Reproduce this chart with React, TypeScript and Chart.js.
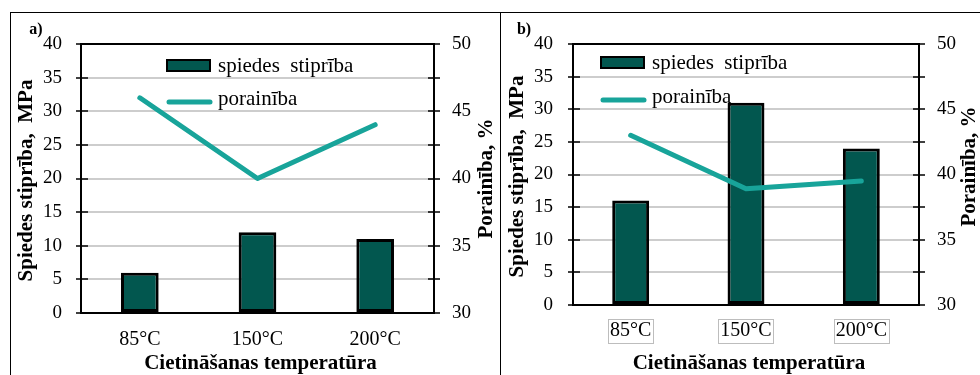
import { useEffect, useRef } from "react";
import { Chart, registerables } from "chart.js";

Chart.register(...registerables);

// ---- data ----
const categories = ["85°C", "150°C", "200°C"];
const strengthA = [6, 12, 11];
const porosityA = [46, 40, 44];
const strengthB = [16, 31, 24];
const porosityB = [43, 38.9, 39.5];
const strengthRange = [0, 40];
const porosityRange = [30, 50];
const tickStep = 5;

const barLabel = "spiedes  stiprība";
const lineLabel = "porainība";
const xTitle = "Cietināšanas temperatūra";
const yTitle = "Spiedes stiprība,  MPa";
const y2Title = "Porainība, %";

// ---- styles ----
const SERIF = '"Liberation Serif", "Times New Roman", serif';
const BAR_FILL = "#02574f";
const LINE_COLOR = "#18a49a";
const GRID_COLOR = "#cdcdcd";

type Geo = {
  left: number; // canvas position on page
  width: number;
  leftW: number; // width of left axis box
  rightW: number; // width of right axis box
  top: number; // chart area top
  bottomH: number; // height of x axis box
  xPad: number;
  yPad: number;
  y2Pad: number;
  legendX: number; // offset of legend from chart area left
  legendBoxY: number;
  legendLineY: number;
  tagX: number;
  yTitleX: number;
  y2TitleX: number;
  y2TitleShift: number;
};

type Panel = {
  tag: string;
  strength: number[];
  porosity: number[];
  boxedLabels: boolean;
  geo: Geo;
};

const panels: Panel[] = [
  {
    tag: "a)",
    strength: strengthA,
    porosity: porosityA,
    boxedLabels: false,
    geo: {
      left: 0, width: 500, leftW: 81, rightW: 66, top: 44, bottomH: 62,
      xPad: 15, yPad: 19, y2Pad: 18,
      legendX: 86, legendBoxY: 60, legendLineY: 102,
      tagX: 36, yTitleX: 27, y2TitleX: 487, y2TitleShift: 0,
    },
  },
  {
    tag: "b)",
    strength: strengthB,
    porosity: porosityB,
    boxedLabels: true,
    geo: {
      left: 500, width: 480, leftW: 73, rightW: 61, top: 44, bottomH: 70,
      xPad: 14, yPad: 20, y2Pad: 18,
      legendX: 28, legendBoxY: 57, legendLineY: 100,
      tagX: 24, yTitleX: 18, y2TitleX: 470, y2TitleShift: -8,
    },
  },
];

function decorPlugin(p: Panel) {
  const g = p.geo;
  return {
    id: "panelDecor",
    afterDraw(chart: any) {
      const { ctx, chartArea: a, scales } = chart;
      const yS = scales.y;
      const xS = scales.x;
      const line = (x1: number, y1: number, x2: number, y2: number) => {
        ctx.beginPath();
        ctx.moveTo(x1, y1);
        ctx.lineTo(x2, y2);
        ctx.stroke();
      };
      ctx.save();

      // plot frame
      ctx.strokeStyle = "#000";
      ctx.lineWidth = 2;
      ctx.strokeRect(a.left, a.top, a.right - a.left, a.bottom - a.top);

      // tick marks crossing both vertical axes
      ctx.lineWidth = 1.5;
      yS.ticks.forEach((t: any) => {
        const y = Math.round(yS.getPixelForValue(t.value));
        line(a.left - 5, y, a.left + 7, y);
        line(a.right - 6, y, a.right + 6, y);
      });

      // boxes around category labels
      if (p.boxedLabels) {
        ctx.font = `20px ${SERIF}`;
        ctx.strokeStyle = "#bdbdbd";
        ctx.lineWidth = 1;
        const cy = xS.top + g.xPad + 12;
        categories.forEach((c, i) => {
          const x = xS.getPixelForTick(i);
          const w = ctx.measureText(c).width + 4;
          ctx.strokeRect(Math.round(x - w / 2) + 0.5, Math.round(cy - 12) + 0.5, Math.round(w), 24);
        });
      }

      // legend
      const datasets = chart.data.datasets;
      const lx = a.left + g.legendX;
      ctx.fillStyle = BAR_FILL;
      ctx.strokeStyle = "#000";
      ctx.lineWidth = 2;
      ctx.fillRect(lx, g.legendBoxY, 43, 11);
      ctx.strokeRect(lx, g.legendBoxY, 43, 11);
      ctx.strokeStyle = LINE_COLOR;
      ctx.lineWidth = 5;
      ctx.lineCap = "round";
      line(lx + 2, g.legendLineY, lx + 43, g.legendLineY);
      ctx.fillStyle = "#000";
      ctx.font = `21px ${SERIF}`;
      ctx.textAlign = "left";
      ctx.textBaseline = "middle";
      ctx.fillText(datasets[1].label, lx + 51, g.legendBoxY + 6);
      ctx.fillText(datasets[0].label, lx + 51, g.legendLineY - 3);

      // panel tag
      ctx.font = `bold 16px ${SERIF}`;
      ctx.textAlign = "center";
      ctx.fillText(p.tag, g.tagX, 30);

      // axis titles
      const midY = (a.top + a.bottom) / 2;
      ctx.font = `bold 21px ${SERIF}`;
      ctx.fillText(xTitle, (a.left + a.right) / 2 + 3, 364);
      ctx.save();
      ctx.translate(g.yTitleX, midY + 2);
      ctx.rotate(-Math.PI / 2);
      ctx.fillText(yTitle, 0, 0);
      ctx.restore();
      ctx.save();
      ctx.translate(g.y2TitleX, midY + g.y2TitleShift);
      ctx.rotate(-Math.PI / 2);
      ctx.fillText(y2Title, 0, 0);
      ctx.restore();

      ctx.restore();
    },
  };
}

function PanelChart({ panel }: { panel: Panel }) {
  const ref = useRef<HTMLCanvasElement | null>(null);
  useEffect(() => {
    if (!ref.current) return;
    const g = panel.geo;
    const tickFont = { family: SERIF, size: 19 };
    const chart = new Chart(ref.current, {
      type: "bar",
      data: {
        labels: categories,
        datasets: [
          {
            type: "line",
            label: lineLabel,
            data: panel.porosity,
            yAxisID: "y2",
            borderColor: LINE_COLOR,
            borderWidth: 5,
            borderCapStyle: "round",
            borderJoinStyle: "round",
            pointRadius: 0,
            tension: 0,
            order: 0,
          } as any,
          {
            type: "bar",
            label: barLabel,
            data: panel.strength,
            yAxisID: "y",
            backgroundColor: BAR_FILL,
            borderColor: "#000",
            borderWidth: 3,
            borderSkipped: false,
            barPercentage: 0.32,
            categoryPercentage: 1,
            order: 1,
          } as any,
        ],
      },
      options: {
        responsive: false,
        animation: false,
        events: [],
        layout: { padding: { top: g.top, left: 0, right: 0, bottom: 0 } },
        plugins: { legend: { display: false }, tooltip: { enabled: false } },
        scales: {
          x: {
            grid: { display: false, drawTicks: false },
            border: { display: false },
            ticks: { font: { family: SERIF, size: 20 }, color: "#000", padding: g.xPad, maxRotation: 0 },
            afterFit: (s: any) => { s.height = g.bottomH; },
          },
          y: {
            position: "left",
            min: strengthRange[0],
            max: strengthRange[1],
            grid: { color: GRID_COLOR, lineWidth: 2, drawTicks: false },
            border: { display: false },
            ticks: { stepSize: tickStep, font: tickFont, color: "#000", padding: g.yPad },
            afterFit: (s: any) => { s.width = g.leftW; },
          },
          y2: {
            position: "right",
            min: porosityRange[0],
            max: porosityRange[1],
            grid: { display: false, drawTicks: false },
            border: { display: false },
            ticks: { stepSize: tickStep, font: tickFont, color: "#000", padding: g.y2Pad },
            afterFit: (s: any) => { s.width = g.rightW; },
          },
        },
      } as any,
      plugins: [decorPlugin(panel)],
    });
    return () => chart.destroy();
  }, [panel]);
  return (
    <canvas
      ref={ref}
      width={panel.geo.width}
      height={375}
      style={{ position: "absolute", left: panel.geo.left, top: 0, width: panel.geo.width, height: 375 }}
    />
  );
}

export default function App() {
  return (
    <div
      style={{
        position: "absolute",
        left: 0,
        top: 0,
        width: 980,
        height: 375,
        overflow: "hidden",
        background: "#fff",
      }}
    >
      {panels.map((p) => (
        <PanelChart key={p.tag} panel={p} />
      ))}
      {/* panel borders */}
      <div style={{ position: "absolute", left: 10, top: 12, width: 970, height: 1, background: "#000" }} />
      <div style={{ position: "absolute", left: 10, top: 12, width: 1, height: 363, background: "#000" }} />
      <div style={{ position: "absolute", left: 500, top: 12, width: 1, height: 363, background: "#000" }} />
    </div>
  );
}
